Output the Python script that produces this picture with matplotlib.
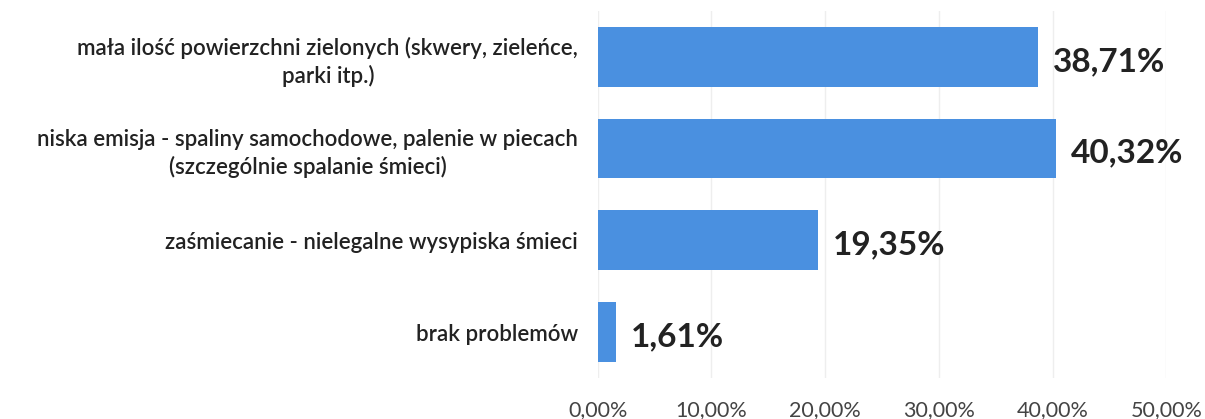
import numpy as np
import matplotlib.pyplot as plt
from matplotlib.ticker import FuncFormatter

categorias = ["mała ilość powierzchni zielonych (skwery, zieleńce,\nparki itp.)",
              "niska emisja - spaliny samochodowe, palenie w piecach\n(szczególnie spalanie śmieci)",
              "zaśmiecanie - nielegalne wysypiska śmieci",
              "brak problemów"]
procenty = [38.71, 40.32, 19.35, 1.61]
ticks_x = [0, 10, 20, 30, 40, 50]

plt.rcParams['font.family'] = ['Lato', 'DejaVu Sans']

fig = plt.figure(figsize=(12.05, 4.19), dpi=100)
ax = fig.add_axes([0.496, 0.098, 0.472, 0.876])

y = np.arange(len(categorias))
ax.barh(y, procenty, height=0.65, color="#4a90e0", zorder=2)
ax.set_ylim(len(categorias) - 0.5, -0.5)
ax.set_xlim(0, 50)

for yi, v in zip(y, procenty):
    ax.text(v + 1.3, yi + 0.05, f"{v:.2f}%".replace(".", ","), va="center", ha="left",
            fontsize=24, fontweight="bold", color="#222222")

ax.set_yticks(y)
ax.set_yticklabels(categorias, fontsize=16, color="#222222", fontweight="semibold",
                   multialignment="center", linespacing=1.35)
ax.set_xticks(ticks_x)
ax.xaxis.set_major_formatter(FuncFormatter(lambda v, p: f"{v:.2f}%".replace(".", ",")))
ax.tick_params(axis="x", labelsize=15.5, colors="#444444", length=0, pad=16)
ax.tick_params(axis="y", length=0, pad=14)
ax.grid(axis="x", color="#eeeeee", linewidth=1, zorder=0)
for s in ax.spines.values():
    s.set_visible(False)

fig.savefig("out.png", dpi=100)
